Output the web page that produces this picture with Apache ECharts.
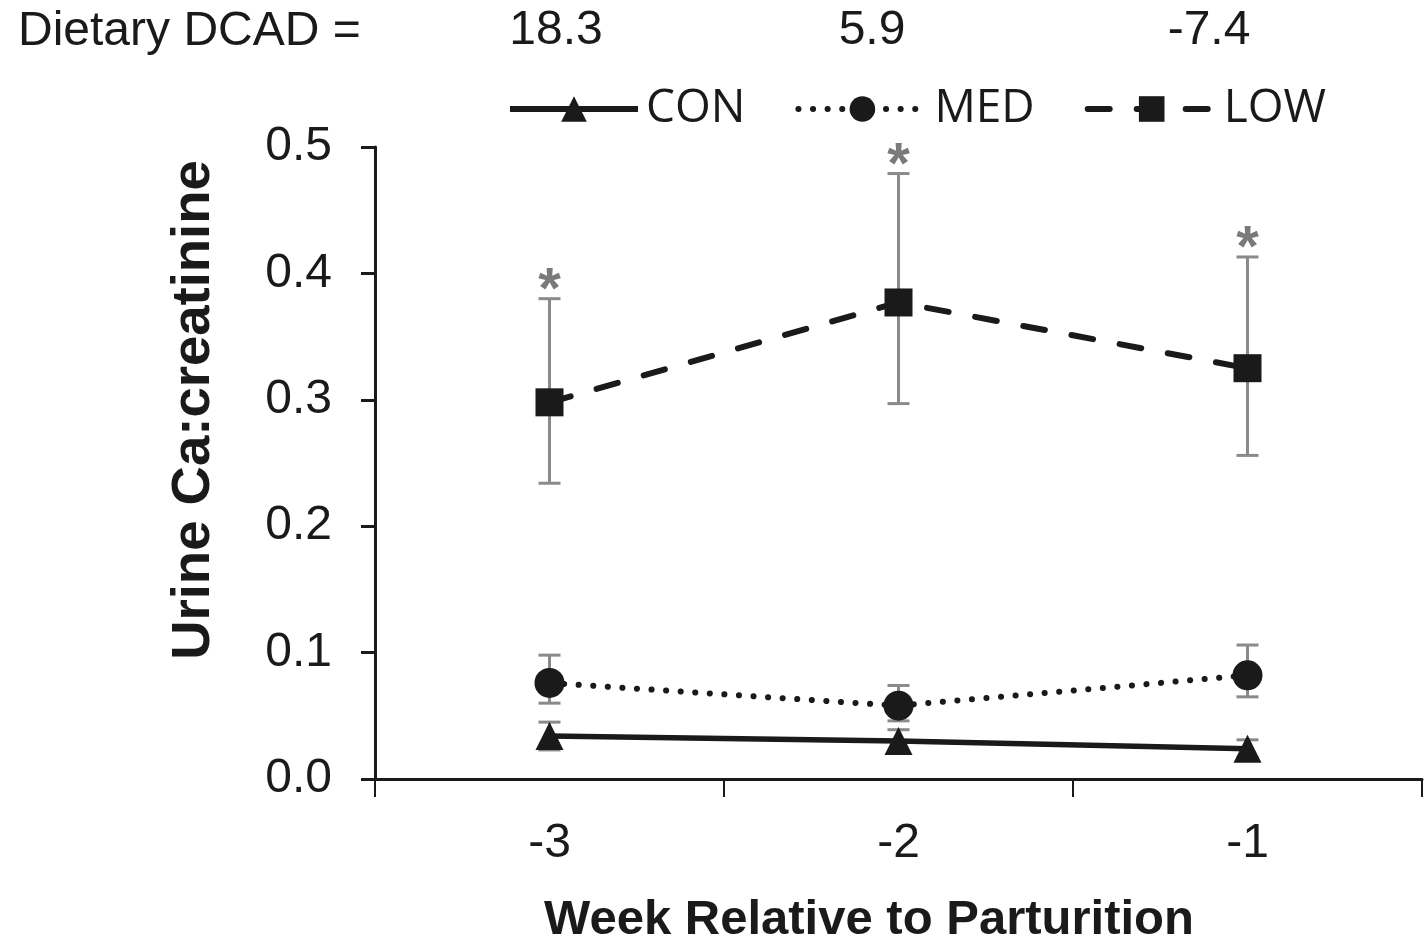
<!DOCTYPE html>
<html>
<head>
<meta charset="utf-8">
<script src="https://cdn.jsdelivr.net/npm/echarts@6/dist/echarts.min.js"></script>
<style>
html,body{margin:0;padding:0;background:#fff;}
#chart{width:1425px;height:944px;}
</style>
</head>
<body>
<div id="chart"></div>
<script>
const categories = ['-3', '-2', '-1'];
const seriesNames = ['CON', 'MED', 'LOW'];
const conMean  = [0.034, 0.030, 0.024];
const conUpper = [0.045, 0.039, 0.031];
const conLower = [0.023, 0.021, 0.017];
const medMean  = [0.076, 0.058, 0.082];
const medUpper = [0.098, 0.074, 0.106];
const medLower = [0.060, 0.046, 0.065];
const lowMean  = [0.298, 0.377, 0.325];
const lowUpper = [0.380, 0.479, 0.413];
const lowLower = [0.234, 0.297, 0.256];
const lowSignificance = ['*', '*', '*'];
const dcadLabel = 'Dietary DCAD =';
const dcadValues = ['18.3', '5.9', '-7.4'];
const yTickLabels = ['0.0', '0.1', '0.2', '0.3', '0.4', '0.5'];

const INK = '#1a1a1a';
const GREY = '#8a8a8a';

function errBars(lower, upper) {
  return categories.map((c, i) => [i, lower[i], upper[i]]);
}
function renderErrorBar(params, api) {
  const x = api.value(0);
  const lo = api.coord([x, api.value(1)]);
  const hi = api.coord([x, api.value(2)]);
  const hw = 11;
  const style = { stroke: GREY, lineWidth: 3 };
  return {
    type: 'group',
    children: [
      { type: 'line', shape: { x1: lo[0], y1: lo[1], x2: hi[0], y2: hi[1] }, style: style },
      { type: 'line', shape: { x1: lo[0] - hw, y1: lo[1], x2: lo[0] + hw, y2: lo[1] }, style: style },
      { type: 'line', shape: { x1: hi[0] - hw, y1: hi[1], x2: hi[0] + hw, y2: hi[1] }, style: style }
    ]
  };
}
function renderStar(params, api) {
  const p = api.coord([api.value(0), api.value(1)]);
  return {
    type: 'text',
    style: {
      x: p[0], y: p[1] - 7,
      text: lowSignificance[params.dataIndex],
      fill: '#7a7a7a',
      font: 'bold 58px "Liberation Sans", Arial, sans-serif',
      align: 'center', verticalAlign: 'middle'
    }
  };
}

const chart = echarts.init(document.getElementById('chart'), null, { renderer: 'canvas' });
const dcadX = [556, 872, 1209];

const option = {
  animation: false,
  backgroundColor: '#ffffff',
  grid: { left: 375, right: 3, top: 147, bottom: 165, containLabel: false, outerBoundsMode: 'none' },
  legend: {
    data: seriesNames,
    left: 507, top: 86, padding: 0,
    itemWidth: 128, itemHeight: 32, itemGap: 50,
    selectedMode: false,
    lineStyle: { width: 6 },
    textStyle: { fontFamily: '"Open Sans", sans-serif', fontSize: 46, color: INK, padding: [0, 0, 0, 3] }
  },
  xAxis: {
    type: 'category',
    data: categories,
    boundaryGap: true,
    axisLine: { lineStyle: { color: INK, width: 3 } },
    axisTick: { show: true, inside: false, length: 18, lineStyle: { color: INK, width: 2 } },
    axisLabel: { color: INK, fontSize: 48, fontFamily: '"Liberation Sans", Arial, sans-serif', margin: 41 },
    splitLine: { show: false }
  },
  yAxis: {
    type: 'value',
    min: 0, max: 0.5, interval: 0.1,
    axisLine: { show: true, lineStyle: { color: INK, width: 3 } },
    axisTick: { show: true, inside: false, length: 14, lineStyle: { color: INK, width: 3 } },
    axisLabel: {
      color: INK, fontSize: 48, fontFamily: '"Liberation Sans", Arial, sans-serif', margin: 43,
      formatter: function (v) { return yTickLabels[Math.round(v * 10)]; }
    },
    splitLine: { show: false }
  },
  graphic: [
    { type: 'text', left: 18, top: 8, style: { text: dcadLabel, fill: INK, font: '48px "Liberation Sans", Arial, sans-serif' } }
  ].concat(dcadValues.map((v, i) => ({
    type: 'text', x: dcadX[i], y: 31,
    style: { text: v, fill: INK, font: '48px "Liberation Sans", Arial, sans-serif', align: 'center', verticalAlign: 'middle' }
  }))).concat([
    { type: 'text', x: 869, y: 920,
      style: { text: 'Week Relative to Parturition', fill: INK, font: 'bold 49px "Liberation Sans", Arial, sans-serif', align: 'center', verticalAlign: 'middle' } },
    { type: 'text', x: 194, y: 410, rotation: Math.PI / 2,
      style: { text: 'Urine Ca:creatinine', fill: INK, font: 'bold 54.5px "Liberation Sans", Arial, sans-serif', align: 'center', verticalAlign: 'middle' } }
  ]),
  series: [
    { type: 'custom', name: 'conErr', renderItem: renderErrorBar, data: errBars(conLower, conUpper), encode: { x: 0, y: [1, 2] }, z: 1, silent: true },
    { type: 'custom', name: 'medErr', renderItem: renderErrorBar, data: errBars(medLower, medUpper), encode: { x: 0, y: [1, 2] }, z: 1, silent: true },
    { type: 'custom', name: 'lowErr', renderItem: renderErrorBar, data: errBars(lowLower, lowUpper), encode: { x: 0, y: [1, 2] }, z: 1, silent: true },
    { type: 'custom', name: 'lowSig', renderItem: renderStar, data: categories.map((c, i) => [i, lowUpper[i]]), encode: { x: 0, y: 1 }, z: 1, silent: true },
    {
      name: 'CON', type: 'line', data: conMean, z: 3,
      symbol: 'triangle', symbolSize: 28, showAllSymbol: true,
      lineStyle: { color: INK, width: 5.5, type: 'solid' },
      itemStyle: { color: INK, borderWidth: 0 }
    },
    {
      name: 'MED', type: 'line', data: medMean, z: 3,
      symbol: 'circle', symbolSize: 30,
      lineStyle: { color: INK, width: 6, type: [0.1, 14.5], cap: 'round' },
      itemStyle: { color: INK, borderWidth: 0 }
    },
    {
      name: 'LOW', type: 'line', data: lowMean, z: 3,
      symbol: 'rect', symbolSize: 28,
      lineStyle: { color: INK, width: 6, type: [22, 27], cap: 'round' },
      itemStyle: { color: INK, borderWidth: 0 }
    }
  ]
};
chart.setOption(option);
</script>
</body>
</html>
